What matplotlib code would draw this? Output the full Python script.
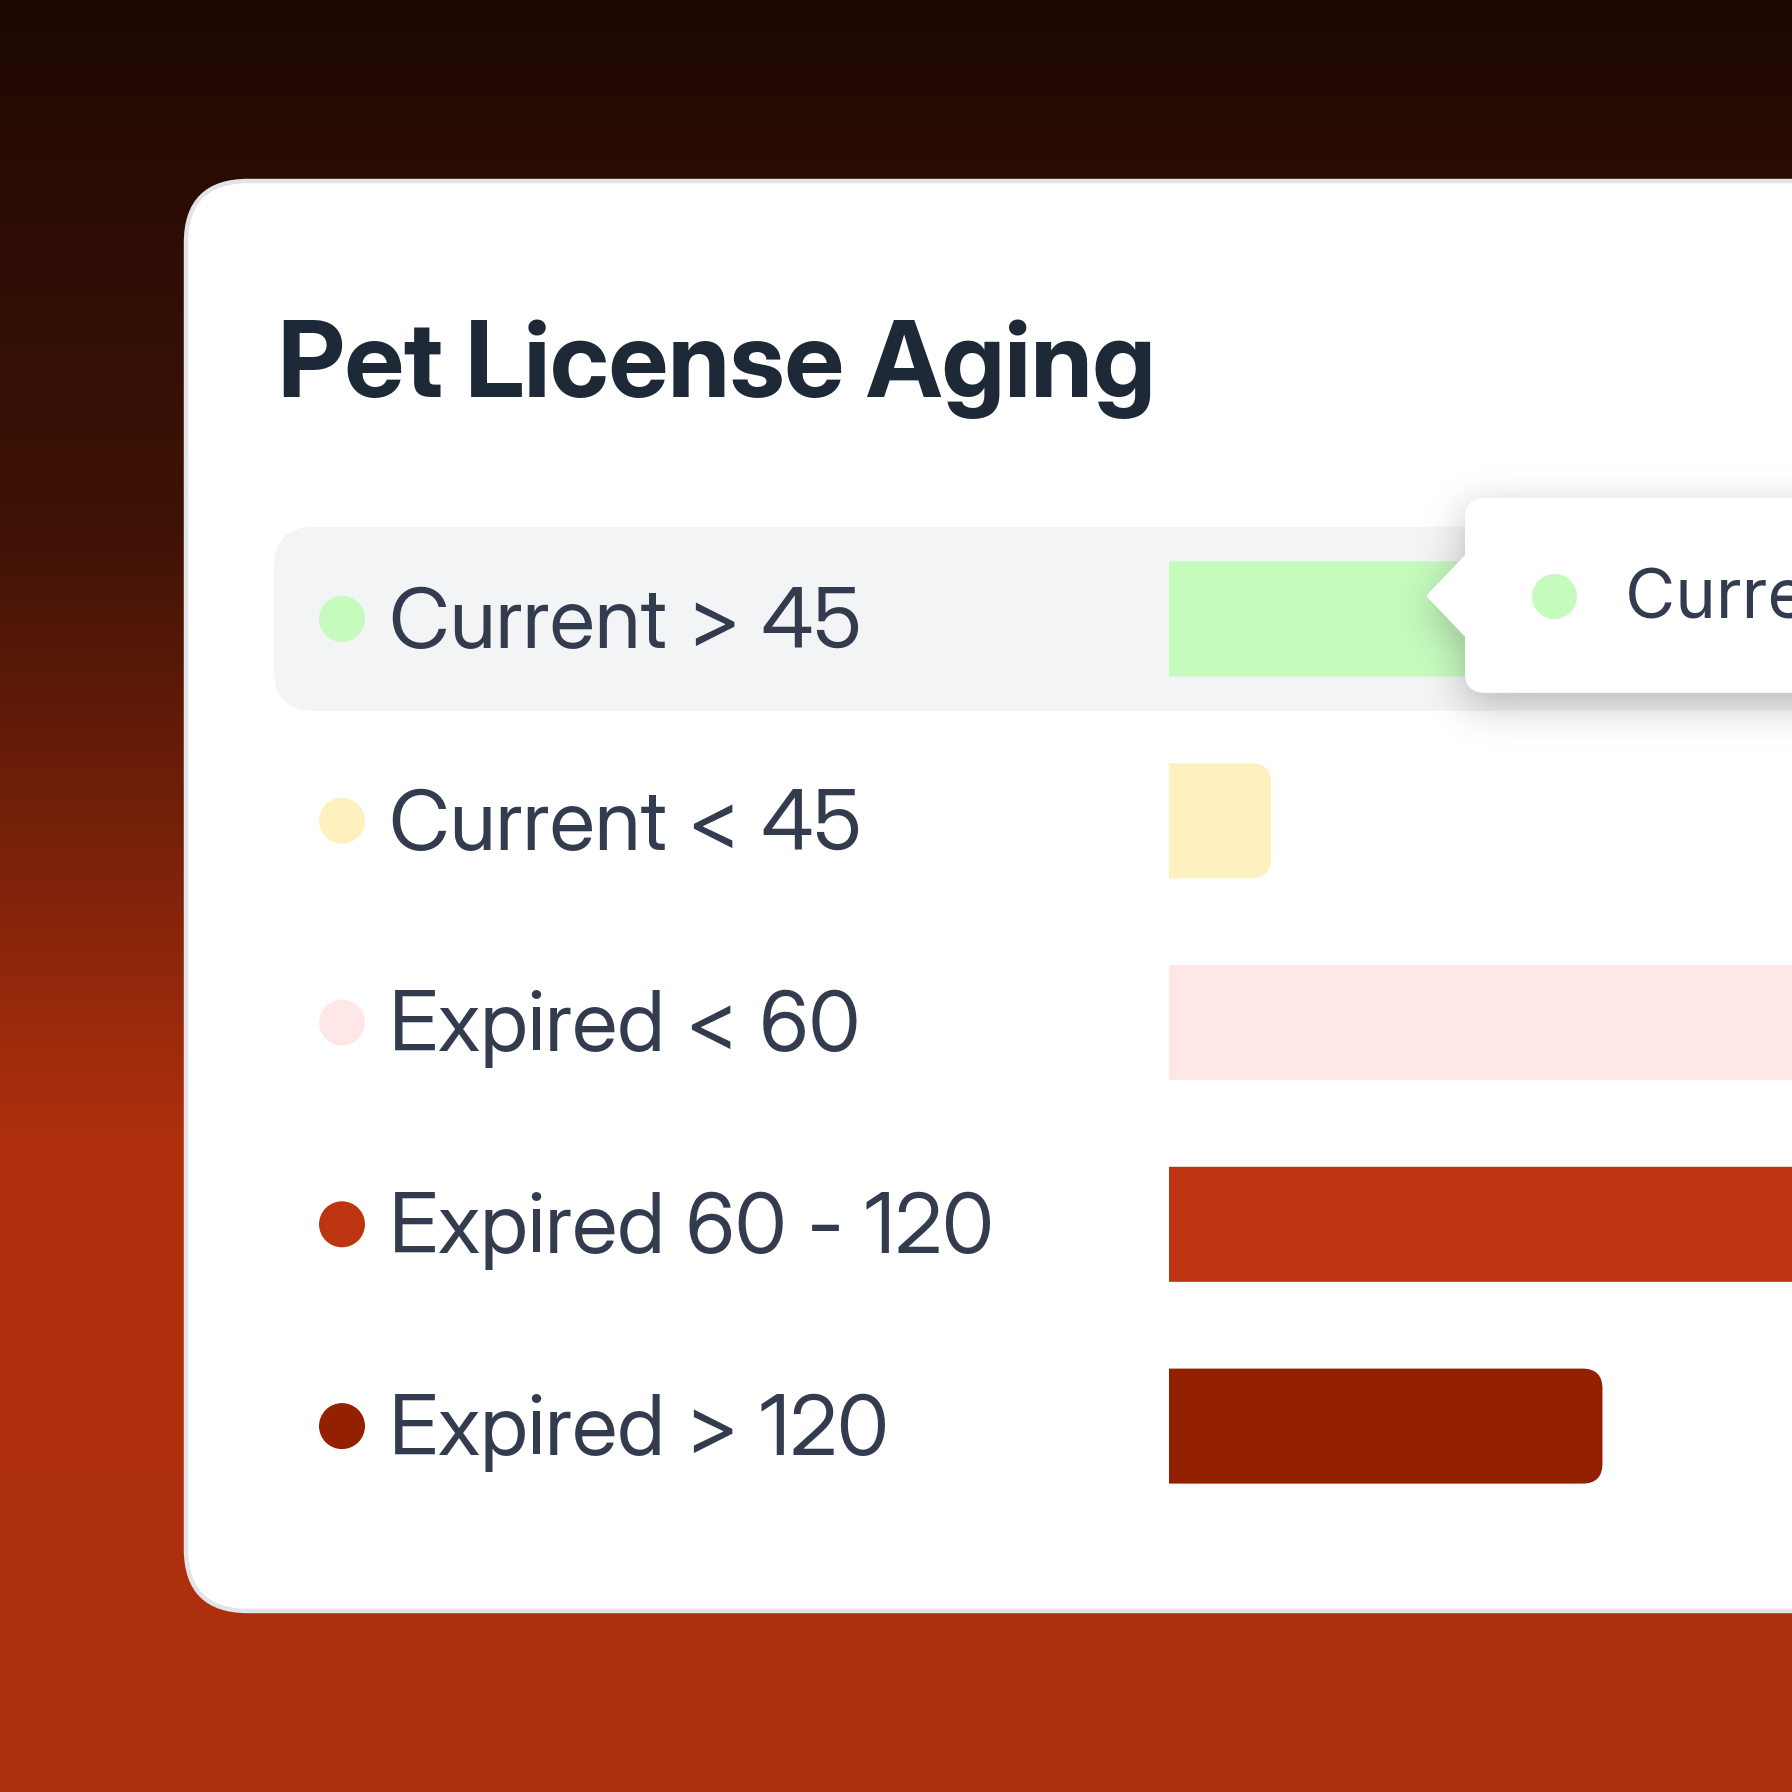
import matplotlib
matplotlib.use("Agg")
import matplotlib.pyplot as plt
import numpy as np
from matplotlib.patches import FancyBboxPatch, Polygon
import matplotlib.transforms as mtrans

# ---------------- data ----------------
categories = ["Current > 45", "Current < 45", "Expired < 60", "Expired 60 - 120", "Expired > 120"]
values = [430, 120, 860, 980, 510]
bar_colors = ["#c5fbbd", "#fef0bf", "#fee7e6", "#bd3510", "#932000"]
title = "Pet License Aging"
tooltip_label = "Current > 45"
highlight_index = 0

W = 1792
TEXT = "#323c4e"
FONT = ["Inter Display", "Inter", "DejaVu Sans"]
FONT_TT = ["Inter", "DejaVu Sans"]

fig = plt.figure(figsize=(17.92, 17.92), dpi=100)

# ---------------- background canvas (pixel coordinates) ----------------
bg = fig.add_axes([0, 0, 1, 1])
bg.set_xlim(0, W)
bg.set_ylim(W, 0)
bg.axis("off")

stops_t = np.array([0.0, 0.30, 0.64, 1.0])
stops_c = np.array([[0x1e, 0x08, 0x03], [0x40, 0x13, 0x06], [0xb0, 0x30, 0x0d], [0xae, 0x2f, 0x0d]]) / 255.0
t = np.linspace(0, 1, 512)
grad = np.stack([np.interp(t, stops_t, stops_c[:, k]) for k in range(3)], axis=1)
grad = np.repeat(grad[:, None, :], 4, axis=1)
bg.imshow(grad, extent=[0, W, W, 0], aspect="auto", zorder=0, interpolation="bilinear")

card = FancyBboxPatch((186, 181), 2300, 1430, boxstyle="round,pad=0,rounding_size=62",
                      fc="white", ec="#e2e4e8", lw=3.2, zorder=1)
bg.add_patch(card)

bg.text(278, 397, title, fontsize=76, fontweight="bold", color="#1e2937",
        family=FONT, va="baseline", ha="left", zorder=3)

# ---------------- bars axes ----------------
left_px, right_px, top_px, bot_px = 1169, W, 518, 1527
ax = fig.add_axes([left_px / W, 1 - bot_px / W, (right_px - left_px) / W, (bot_px - top_px) / W])
ax.patch.set_alpha(0)
xmax = 733
ax.set_xlim(0, xmax)
ax.set_ylim(len(categories) - 0.5, -0.5)
ax.axis("off")

px_per_x = (right_px - left_px) / xmax
px_per_y = (bot_px - top_px) / len(categories)

# highlight row (drawn on the background canvas, positioned from the row index)
hy_px = top_px + (highlight_index + 0.5) * px_per_y
bg.add_patch(FancyBboxPatch((274, hy_px - 92), 2000, 184,
                            boxstyle="round,pad=0,rounding_size=40",
                            fc="#f3f4f6", ec="none", zorder=2))

bars = ax.barh(range(len(categories)), values, height=0.57, color=bar_colors)
r_px = 20
for b, c in zip(bars, bar_colors):
    x, y, w, h = b.get_x(), b.get_y(), b.get_width(), b.get_height()
    b.set_visible(False)
    ext = 60
    p = FancyBboxPatch((x - ext, y), w + ext, h,
                       boxstyle=f"round,pad=0,rounding_size={r_px / px_per_x}",
                       mutation_aspect=px_per_x / px_per_y,
                       fc=c, ec="none")
    ax.add_patch(p)

trans = mtrans.blended_transform_factory(bg.transData, ax.transData)
dot_d_pt = 46 * 72 / 100
ax.scatter([342] * len(categories), range(len(categories)), s=dot_d_pt ** 2,
           c=bar_colors, transform=trans, clip_on=False, linewidths=0, zorder=5)
for i, cat in enumerate(categories):
    ax.text(389, i + 29 / px_per_y, cat, transform=trans, fontsize=60.5,
            color=TEXT, family=FONT, va="baseline", ha="left", clip_on=False)

# ---------------- tooltip overlay ----------------
ov = fig.add_axes([0, 0, 1, 1])
ov.set_xlim(0, W)
ov.set_ylim(W, 0)
ov.axis("off")
ov.patch.set_alpha(0)

ty = top_px + (highlight_index + 0.5) * px_per_y - 23  # tooltip center
tt_left, tt_top, tt_bot = 1465, ty - 98, ty + 97
tip_x = 1428

# soft shadow via blurred mask
x0, x1, y0, y1 = 1300, 2100, 360, 880
xs = np.arange(x0, x1) + 0.5
ys = np.arange(y0, y1) + 0.5
XX, YY = np.meshgrid(xs, ys)
off = 12
mask = ((XX >= tt_left) & (YY >= tt_top + off) & (YY <= tt_bot + off)).astype(float)
tri = (XX >= tip_x) & (XX < tt_left) & (np.abs(YY - (ty + off)) <= (XX - tip_x) * 40 / (tt_left - tip_x))
mask[tri] = 1.0
sigma = 20
k = np.arange(-3 * sigma, 3 * sigma + 1)
kern = np.exp(-0.5 * (k / sigma) ** 2)
kern /= kern.sum()
blur = np.apply_along_axis(lambda r: np.convolve(r, kern, mode="same"), 1, mask)
blur = np.apply_along_axis(lambda r: np.convolve(r, kern, mode="same"), 0, blur)
shadow = np.zeros(blur.shape + (4,))
shadow[..., 0:3] = 0.12
shadow[..., 3] = blur * 0.28
ov.imshow(shadow, extent=[x0, x1, y1, y0], aspect="auto", zorder=1, interpolation="bilinear")
ov.set_xlim(0, W)
ov.set_ylim(W, 0)

ov.add_patch(FancyBboxPatch((tt_left, tt_top), 800, tt_bot - tt_top,
                            boxstyle="round,pad=0,rounding_size=20",
                            fc="white", ec="none", zorder=2))
ov.add_patch(Polygon([[tt_left + 2, ty - 41], [tip_x, ty], [tt_left + 2, ty + 41]],
                     closed=True, fc="white", ec="white", lw=2, joinstyle="round", zorder=3))
ov.scatter([1554], [ty], s=(45 * 72 / 100) ** 2, c=[bar_colors[highlight_index]],
           linewidths=0, zorder=4)
ov.text(1625, ty + 23, tooltip_label, fontsize=49.5, color=TEXT, family=FONT_TT,
        va="baseline", ha="left", zorder=4)

fig.savefig("out.png", dpi=100)
